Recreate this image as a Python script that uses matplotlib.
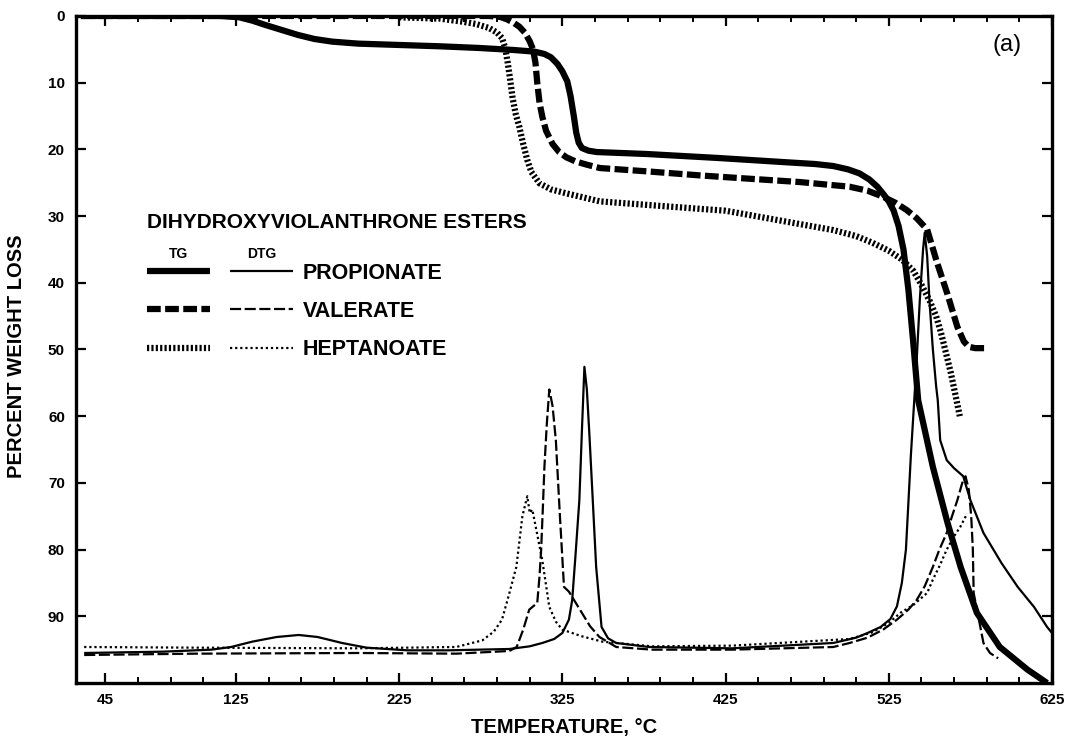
import matplotlib
matplotlib.use("Agg")
import matplotlib.pyplot as plt
from matplotlib.legend_handler import HandlerTuple
from matplotlib.ticker import FixedLocator

plt.rcParams['font.family'] = ['Liberation Sans', 'DejaVu Sans']
plt.rcParams['font.weight'] = 'bold'

# ---- TG curves (percent weight loss vs temperature) ----
tg_prop_T = [30, 115, 127, 135, 143, 153, 163, 173, 184, 200, 225, 250, 274, 295, 308,
             314, 318, 322, 325, 328, 330, 332, 333.5, 335, 337, 341, 346, 377, 421,
             460, 480, 491, 500, 507, 513, 518, 522, 525, 528, 531, 534, 537, 540, 543,
             552, 561, 569, 579, 593, 610, 622]
tg_prop_y = [0, 0, 0.2, 0.7, 1.35, 2.1, 2.85, 3.45, 3.85, 4.15, 4.35, 4.55, 4.8, 5.1, 5.35,
             5.7, 6.2, 7.2, 8.3, 9.8, 12, 15, 17.5, 19, 19.8, 20.2, 20.4, 20.7, 21.3,
             21.9, 22.2, 22.5, 23.0, 23.6, 24.5, 25.6, 26.8, 27.8, 29.2, 31.5, 35, 41, 49, 57.6,
             67.6, 76, 82.6, 89.5, 94.6, 98, 100]

tg_val_T = [30, 280, 287, 291, 295, 298.6, 302, 305, 307, 308.5, 309.6, 311, 312.7, 315,
            319, 323, 327.5, 333, 340, 348, 377, 409, 421, 470.5, 501, 512, 521.5, 529,
            536, 542, 548.5, 554.6, 560.8, 567, 571, 574, 578, 585]
tg_val_y = [0, 0, 0.15, 0.5, 1.0, 1.6, 2.5, 3.8, 5.0, 7.0, 10, 13, 15.1, 17.2,
            19.2, 20.4, 21.2, 21.8, 22.3, 22.8, 23.3, 23.9, 24.1, 24.9, 25.6, 26.2, 27.1, 28.0,
            29.1, 30.3, 32, 37, 41.6, 46.6, 48.8, 49.6, 49.8, 49.8]

tg_hep_T = [225, 250, 263.6, 272, 280, 285, 288, 290, 291.5, 293, 294.5, 296.5, 298.6,
            301, 303.5, 306, 311, 318, 327.5, 348, 425, 491, 505, 515, 525, 533, 540, 545,
            550, 554, 557, 560, 563, 566, 568.5]
tg_hep_y = [0.2, 0.4, 0.85, 1.2, 1.8, 2.5, 3.3, 4.8, 7.0, 9.5, 12.3, 14.8, 16.6,
            19.2, 21.6, 23.4, 25.1, 26.0, 26.6, 27.8, 29.2, 32.1, 33.0, 34.0, 35.2, 36.5, 38.2, 40.3,
            42.7, 45, 47.5, 50.5, 53.5, 57, 60]

# ---- DTG curves (plotted on the same inverted scale) ----
dtg_prop_T = [32, 80, 110, 122, 135, 150, 163.5, 175, 190, 205, 230, 255, 292.5, 305,
              312.7, 320, 325, 329, 331, 333, 335.4, 337, 338.5, 340, 341.5, 343.5, 345.7,
              349, 353, 358, 378, 429, 491, 505, 512, 520, 526, 530, 533, 535.5, 537, 538.5,
              540, 542, 544, 546, 547, 548.5, 550, 552, 554, 555, 556.5, 560.5, 565, 570.6,
              575, 583, 594, 604, 614, 622, 625]
dtg_prop_y = [95.5, 95.3, 95.0, 94.6, 93.8, 93.1, 92.8, 93.1, 94.0, 94.7, 95.1, 95.1, 94.9, 94.5,
              94.0, 93.4, 92.5, 90.5, 87.6, 81, 72.6, 62, 52.6, 56, 62.5, 72, 82.6,
              91.6, 93.3, 94, 94.6, 94.8, 94.0, 93.2, 92.5, 91.6, 90.4, 88.5, 85, 80, 73, 66,
              60, 52, 42.6, 35, 32.5, 36, 43, 50, 55.5, 57.6, 63.6, 66.6, 67.8, 69,
              72.6, 77.5, 82, 85.6, 88.6, 91.6, 92.5]

dtg_val_T = [32, 100, 200, 260, 292.5, 297, 301, 304.7, 309.6, 311, 312, 313, 314, 315.5,
             317, 319, 321, 323.5, 326, 329, 332, 337, 342, 347.7, 358, 380, 429, 491, 501,
             512, 521.5, 530, 537, 542, 547, 552, 556, 560.5, 564, 567, 570, 572, 574, 575.5,
             576.5, 577, 579, 581, 583, 587, 592]
dtg_val_y = [95.8, 95.6, 95.5, 95.6, 95.2, 94.6, 92, 89, 88, 84, 80, 74, 67.6, 61,
             56, 58.5, 63.6, 75, 85.6, 86.3, 87.5, 89.5, 91.5, 93.1, 94.6, 95.0, 95.0, 94.6, 94,
             93.2, 92, 90.5, 89, 87.6, 85.5, 82.6, 80, 77.5, 74.8, 72.6, 70, 69, 71, 75,
             80, 86.5, 89, 91.5, 94, 95.5, 96.3]

dtg_hep_T = [32, 100, 200, 260, 276, 283, 288, 292, 296.8, 300.5, 303.5, 305, 306.6, 309,
             312.7, 317, 321, 325, 337, 349.5, 380, 429, 501, 515, 525, 532, 540, 548.5,
             552, 556, 560.5, 565, 568.8, 573]
dtg_hep_y = [94.6, 94.7, 94.8, 94.6, 93.6, 92.3, 90.5, 87, 82.6, 75, 72, 74.5, 74, 77,
             81.6, 88.6, 90.8, 92, 93, 93.8, 94.5, 94.4, 93.4, 92.4, 91, 89.5, 88.3, 86.5,
             84.5, 82.5, 80, 78, 76.6, 74.6]

series_names = ["PROPIONATE", "VALERATE", "HEPTANOATE"]
x_major = [45, 125, 225, 325, 425, 525, 625]
y_major = [0, 10, 20, 30, 40, 50, 60, 70, 80, 90]

fig = plt.figure(figsize=(10.69, 7.42), dpi=100)
ax = fig.add_axes([0.0711, 0.0795, 0.9130, 0.8990])

TG_LW = 4.5
DTG_LW = 1.6
common = dict(color='black', solid_joinstyle='round', solid_capstyle='butt')

tg_p, = ax.plot(tg_prop_T, tg_prop_y, lw=TG_LW, **common)
tg_v, = ax.plot(tg_val_T, tg_val_y, lw=TG_LW, color='black', linestyle=(0, (2.2, 0.7)),
                dash_capstyle='butt', dash_joinstyle='round')
tg_h, = ax.plot(tg_hep_T, tg_hep_y, lw=TG_LW, color='black', linestyle=(0, (0.35, 0.35)),
                dash_capstyle='butt', dash_joinstyle='round')

dtg_p, = ax.plot(dtg_prop_T, dtg_prop_y, lw=DTG_LW, **common)
dtg_v, = ax.plot(dtg_val_T, dtg_val_y, lw=DTG_LW, color='black', linestyle=(0, (5, 1.6)),
                 dash_capstyle='butt')
dtg_h, = ax.plot(dtg_hep_T, dtg_hep_y, lw=DTG_LW, color='black', linestyle=(0, (1, 1.3)),
                 dash_capstyle='butt')

ax.set_xlim(27, 625)
ax.set_ylim(100, 0)

for sp in ax.spines.values():
    sp.set_linewidth(2.4)

ax.xaxis.set_major_locator(FixedLocator(x_major))
ax.xaxis.set_minor_locator(FixedLocator([t for t in range(45, 626, 20) if t not in x_major]))
ax.yaxis.set_major_locator(FixedLocator(y_major))
ax.tick_params(axis='x', which='major', direction='in', length=7, width=1.6,
               top=True, bottom=True, pad=7, labelsize=11)
ax.tick_params(axis='x', which='minor', direction='in', length=4, width=1.4,
               top=True, bottom=True)
ax.tick_params(axis='y', which='major', direction='in', length=7.5, width=1.6,
               left=True, right=True, pad=8, labelsize=11)
for lab in ax.get_xticklabels() + ax.get_yticklabels():
    lab.set_fontweight('bold')

ax.set_xlabel("TEMPERATURE, °C", fontsize=14.5, fontweight='bold', labelpad=8)
ax.set_ylabel("PERCENT WEIGHT LOSS", fontsize=14.5, fontweight='bold')
ax.yaxis.set_label_coords(-0.051, 0.49)

ax.text(0.954, 0.956, "(a)", transform=ax.transAxes, fontsize=17,
        fontweight='normal', ha='center', va='center')

# legend block: title, column headers, then one row per ester with TG and DTG keys
ax.text(0.0727, 0.690, "DIHYDROXYVIOLANTHRONE ESTERS", transform=ax.transAxes,
        fontsize=15, fontweight='bold', ha='left', va='center')
ax.text(0.1055, 0.643, "TG", transform=ax.transAxes, fontsize=10,
        fontweight='bold', ha='center', va='center')
ax.text(0.190, 0.643, "DTG", transform=ax.transAxes, fontsize=10,
        fontweight='bold', ha='center', va='center')

handles = [(tg_p, dtg_p), (tg_v, dtg_v), (tg_h, dtg_h)]
leg = ax.legend(handles, series_names,
                handler_map={tuple: HandlerTuple(ndivide=None, pad=0.93)},
                loc='upper left', bbox_to_anchor=(0.0727, 0.630),
                frameon=False, handlelength=6.8, handletextpad=0.42,
                labelspacing=0.8, borderpad=0, borderaxespad=0,
                prop={'weight': 'bold', 'size': 15.5})

fig.savefig("out.png", dpi=100)
